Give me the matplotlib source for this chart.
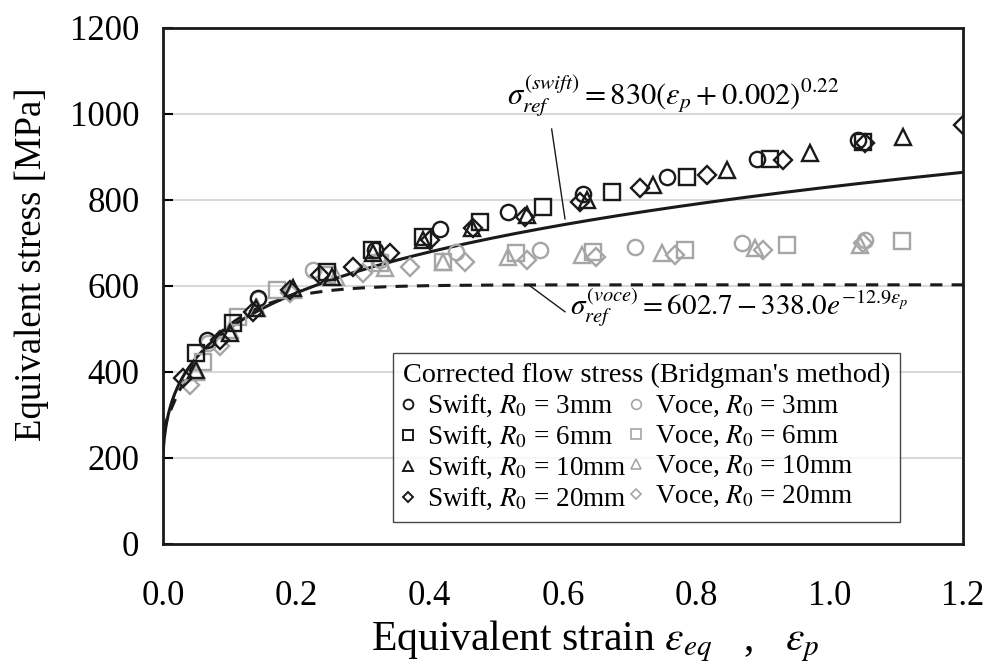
import numpy as np
import matplotlib
matplotlib.use('Agg')
import matplotlib.pyplot as plt
from matplotlib.lines import Line2D

plt.rcParams['font.family'] = ['Liberation Serif', 'DejaVu Serif']
plt.rcParams['mathtext.fontset'] = 'stix'

# Swift-based corrected flow stress (black markers)
swift3_x = [0.066, 0.143, 0.318, 0.415, 0.517, 0.63, 0.756, 0.891, 1.043]
swift3_y = [474, 572, 684, 732, 772, 814, 853, 895, 940]
swift6_x = [0.05, 0.105, 0.246, 0.313, 0.39, 0.475, 0.57, 0.673, 0.786, 0.91, 1.05]
swift6_y = [444, 515, 633, 684, 714, 749, 784, 818, 853, 895, 935]
swift10_x = [0.05, 0.10, 0.14, 0.195, 0.253, 0.315, 0.39, 0.463, 0.546, 0.636, 0.735, 0.846, 0.97, 1.11]
swift10_y = [405, 490, 548, 595, 621, 677, 707, 735, 765, 800, 835, 870, 909, 947]
swift20_x = [0.03, 0.085, 0.135, 0.19, 0.235, 0.285, 0.34, 0.40, 0.465, 0.543, 0.625, 0.716, 0.816, 0.93, 1.053, 1.2]
swift20_y = [386, 475, 540, 590, 625, 644, 676, 707, 735, 760, 795, 828, 858, 893, 932, 974]

# Voce-based corrected flow stress (grey markers)
voce3_x = [0.068, 0.142, 0.225, 0.325, 0.44, 0.565, 0.708, 0.868, 1.053]
voce3_y = [468, 570, 637, 660, 680, 684, 691, 700, 707]
voce6_x = [0.06, 0.113, 0.171, 0.246, 0.325, 0.42, 0.53, 0.645, 0.783, 0.936, 1.108]
voce6_y = [423, 528, 590, 626, 653, 656, 676, 679, 684, 695, 705]
voce10_x = [0.05, 0.10, 0.141, 0.195, 0.26, 0.333, 0.42, 0.518, 0.628, 0.748, 0.888, 1.045]
voce10_y = [400, 498, 548, 590, 621, 642, 656, 668, 672, 676, 688, 695]
voce20_x = [0.04, 0.085, 0.19, 0.30, 0.37, 0.453, 0.546, 0.65, 0.768, 0.90, 1.05]
voce20_y = [370, 460, 584, 630, 644, 656, 660, 668, 672, 684, 700]

# reference curves
strain = np.linspace(0, 1.2, 600)
swift_curve = 830 * (strain + 0.002) ** 0.22
voce_curve = 602.7 - 338.0 * np.exp(-12.9 * strain)

black = '#1a1a1a'
grey = '#a6a6a6'

fig = plt.figure(figsize=(9.89, 6.66), dpi=100)
ax = fig.add_axes([0.1648, 0.1832, 0.8089, 0.7748])

for yv in range(200, 1200, 200):
    ax.axhline(yv, color='#d9d9d9', lw=1.5, zorder=0)

ax.plot(strain, swift_curve, color=black, lw=2.2, zorder=3)
ax.plot(strain, voce_curve, color=black, lw=2.2, ls=(0, (4, 3)), zorder=3)

ms = 11
mew = 1.7
series = [
    (voce3_x, voce3_y, 'o', grey), (voce6_x, voce6_y, 's', grey),
    (voce10_x, voce10_y, '^', grey), (voce20_x, voce20_y, 'D', grey),
    (swift3_x, swift3_y, 'o', black), (swift6_x, swift6_y, 's', black),
    (swift10_x, swift10_y, '^', black), (swift20_x, swift20_y, 'D', black),
]
for xs, ys, mk, c in series:
    size = ms * 0.8 if mk == 'D' else ms
    ax.plot(xs, ys, mk, ms=size, mfc='none', mec=c, mew=mew, zorder=4)

# equations with leader lines
ax.plot([0.583, 0.603], [965, 756], color=black, lw=1)
ax.text(0.516, 1040, r'$\sigma_{ref}^{(swift)} = 830(\varepsilon_p + 0.002)^{0.22}$',
        fontsize=22, va='center', ha='left')
ax.plot([0.549, 0.603], [602, 540], color=black, lw=1)
ax.text(0.61, 552, r'$\sigma_{ref}^{(voce)} = 602.7 - 338.0e^{-12.9\varepsilon_p}$',
        fontsize=21, va='center', ha='left')

# legend
labels = ['3mm', '6mm', '10mm', '20mm']
marks = ['o', 's', '^', 'D']
handles = []
names = []
for mk, lab in zip(marks, labels):
    handles.append(Line2D([], [], ls='none', marker=mk, ms=7 if mk != 'D' else 5.5,
                          mfc='none', mec=black, mew=1.4))
    names.append('Swift, $R_0$ = ' + lab)
for mk, lab in zip(marks, labels):
    handles.append(Line2D([], [], ls='none', marker=mk, ms=7 if mk != 'D' else 5.5,
                          mfc='none', mec=grey, mew=1.2))
    names.append('Voce, $R_0$ = ' + lab)
leg = ax.legend(handles, names, ncol=2, loc='lower right', bbox_to_anchor=(0.921, 0.043),
                title="Corrected flow stress (Bridgman's method)", title_fontsize=20.3,
                fontsize=19.5, frameon=True, fancybox=False, edgecolor=black,
                borderpad=0.35, labelspacing=0.18, handlelength=0.35, handletextpad=0.55,
                columnspacing=0.15, borderaxespad=0)
leg.get_frame().set_linewidth(1.0)
leg._legend_box.align = 'left'

ax.set_xlim(0, 1.2)
ax.set_ylim(0, 1200)
ax.set_xticks(np.arange(0, 1.21, 0.2))
ax.set_xticklabels(['0.0', '0.2', '0.4', '0.6', '0.8', '1.0', '1.2'])
ax.set_yticks(range(0, 1201, 200))
ax.tick_params(axis='both', labelsize=25, direction='in', length=7, width=1.5)
ax.tick_params(axis='x', length=0, pad=26)
ax.tick_params(axis='y', pad=17)
for sp in ax.spines.values():
    sp.set_linewidth(2)
    sp.set_color(black)

ax.set_xlabel(r'Equivalent strain $\varepsilon_{eq}$   ,   $\varepsilon_p$', fontsize=30, ha='left')
ax.xaxis.set_label_coords(0.26, -0.145)
ax.set_ylabel('Equivalent stress [MPa]', fontsize=26.5)
ax.yaxis.set_label_coords(-0.143, 0.543)

fig.savefig('out.png', dpi=100)
